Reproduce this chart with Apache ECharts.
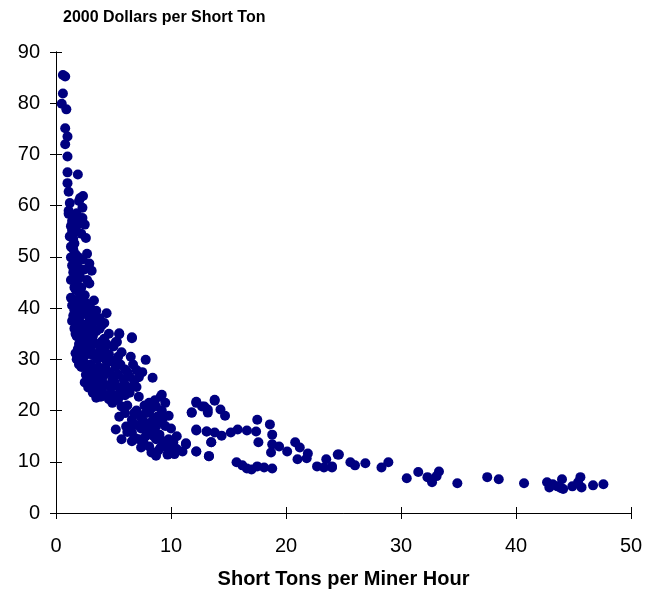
<!DOCTYPE html>
<html>
<head>
<meta charset="utf-8">
<script src="https://cdn.jsdelivr.net/npm/echarts@6/dist/echarts.min.js"></script>
<style>html,body{margin:0;padding:0;background:#fff;}#c{width:657px;height:595px;}</style>
</head>
<body>
<div id="c"></div>
<script>
const chartTitle = "2000 Dollars per Short Ton";
const xAxisName = "Short Tons per Miner Hour";
const xTicks = [0, 10, 20, 30, 40, 50];
const yTicks = [0, 10, 20, 30, 40, 50, 60, 70, 80, 90];

// [tons per miner hour, dollars per short ton]
const steepPoints = [
  [0.6,85.5],[0.8,85.2],[0.6,81.9],[0.5,79.9],[0.9,78.8],[0.8,75.1],[1.0,73.5],[0.8,72.0],
  [1.0,69.6],[1.0,66.5],[1.9,66.1],[1.0,64.4],[1.1,62.7],[2.1,61.5],[2.35,61.9],[2.3,59.6],
  [1.1,59.0],[2.0,60.9],[1.1,58.4],[1.4,57.0],[2.3,57.6],[2.5,56.3],[1.4,55.1],[2.6,53.7],
  [1.6,52.6],[1.5,51.5],[2.7,50.6],[1.3,49.9],[1.4,48.3],[2.9,48.7],[3.1,47.3],[1.65,46.8],
  [1.8,45.0],[2.9,44.8],[1.75,43.5],[2.0,41.9],[1.6,39.6],[1.2,54.0],[1.5,53.5],[1.7,50.5],
  [1.9,48.0],[2.1,46.0],[1.5,47.0],[2.2,44.0],[2.5,42.5],[2.0,43.5],[1.9,50.0],[1.3,52.0],
  [1.3,56],[1.6,58],[1.8,55],[2.2,54.5],[1.6,49],[2.3,49.5],[2.4,47.5],[1.9,46.5],[1.3,45.5],
  [1.6,44],[2.3,42],[2.7,45.5],[1.8,58.5],[2.0,56.5],[1.2,60.5]
];
const clusterPoints = [
  [1.7,41],[2.2,40.5],[2.6,41],[3.0,40],[3.3,41.5],[2.4,39],[1.5,38.5],[2.0,38],[2.8,38.5],
  [3.5,39.5],[3.8,38],[4.4,39.0],[4.2,37.1],[1.4,37.5],
  [1.6,36],[2.0,37.6],[2.9,38.2],[2.3,36],[2.7,35],[3.1,36.5],[3.5,35.5],[4.0,36.7],[3.2,34.5],
  [1.8,34.5],[2.4,34],[4.6,35],[5.5,35.1],[5.3,33.4],[6.6,34.1],[5.5,34.9],[6.6,34.3],[5.2,33.4],[4.2,34],
  [1.9,32],[2.2,30.5],[2.6,33],[3.0,32],[3.4,31],[3.8,33],[4.2,32],[4.6,31],[5.0,32.5],[1.8,30],
  [2.5,31.5],[3.6,30],[4.0,30.5],[5.7,31.4],[6.5,30.5],[4.8,29.8],[3.2,33.5],
  [2.2,28.5],[2.6,27],[3.0,29],[3.4,28],[3.9,27],[4.3,28.5],[4.7,27.5],[5.2,28.5],[5.6,29],[6.0,28],
  [7.8,29.9],[7.5,27.5],[8.4,26.4],[7.0,27.9],[6.4,26.6],[5.9,26.0],[2.8,26],[3.3,26.5],[4.0,26],
  [4.9,26],[5.4,27],
  [2.8,24.5],[3.2,23.5],[3.6,25],[4.0,24],[4.4,23],[4.8,24.5],[5.2,23],[7.0,24.6],[6.4,23.5],
  [5.7,23.5],[3.9,22.7],[3.5,22.5],[6.0,25],[4.6,22.2],
  [1.3,42],[1.4,40.5],[1.8,39.5],[2.1,39.5],[2.6,39.8],[3.1,38.5],[3.4,37.5],[3.8,36],[1.7,35],
  [1.9,36.3],[2.2,35],[2.6,36.8],[3.0,35.2],[2.5,33.2],[2.9,33.8],[3.5,33],[4.0,33.5],[4.4,33],
  [1.7,31.2],[2.0,33],[2.3,32],[2.7,31],[3.2,30.8],[3.8,31.5],[4.3,30],[2.0,29],[2.4,29.5],
  [2.8,28.5],[3.2,27.2],[3.7,28.5],[4.2,27],[4.5,29.5],[5.0,29.5],[5.4,30.5],[2.5,25.5],[3.0,25],
  [3.5,24],[3.9,25.5],[4.3,25],[4.7,23.2],[5.1,25.5],[5.5,24.5],[5.0,21.8],[5.4,22.2],[6.0,23],
  [6.3,24.5],[6.8,25.8],[6.2,27.5],[6.7,29],[7.2,26.5]
];
const bandPoints = [
  [4.9,21.5],[5.7,20.8],[7.2,22.7],[8.1,21.5],[9.1,22.7],[8.7,20.8],[8.8,18.8],[8.1,19.6],[7.5,18.2],
  [6.6,18.2],[6.1,16.9],[5.2,16.3],[5.7,14.4],[6.6,15.7],[7.2,14.4],[8.1,15.9],[8.7,16.9],[9.0,15.3],
  [8.1,13.0],[8.7,14.4],[9.8,14.4],[10.0,12.8],[9.7,11.4],[8.3,11.8],[9.1,12.8],[11.3,13.6],[12.2,12.0],
  [13.3,11.1],[12.2,21.5],[11.8,19.6],[12.9,20.8],[13.2,20.2],[13.8,22.1],[12.2,16.3],[13.1,15.9],
  [13.5,13.8],[6.2,21],[7.0,20],[7.7,21],[6.8,19.5],[7.9,17.5],[8.4,18],[9.3,18.5],[9.5,17],[9.2,20],
  [7.4,16.5],[9.5,13.5],[10.2,13.8],[10.3,11.5],[8.9,12.2],[7.6,13.8],[9.2,23.1],
  [5.5,18.8],[6.0,19.5],[6.5,17],[7.0,17.2],[7.3,19],[7.8,19.5],[8.3,20.5],[8.6,22],[9.5,21.5],
  [9.8,19],[10.0,16.5],[9.0,17.8],[8.4,16.5],[7.8,15],[6.9,14.6],[6.2,15.8],[8.5,15],[9.3,14],
  [10.5,15],[9.7,12.6],[10.5,12.5],[11.0,12],[8.7,11.2],[7.4,12.8],[6.6,14]
];
const midPoints = [
  [12.2,21.7],[11.8,19.6],[12.7,20.8],[13.2,19.6],[13.8,21.9],[14.3,20.2],[14.7,19.0],[10.1,14.0],
  [9.8,11.8],[11.3,13.4],[12.2,16.1],[12.2,12.0],[13.1,15.9],[13.5,13.8],[13.3,11.1],[13.8,15.7],
  [14.4,15.1],[15.2,15.7],[15.8,16.3],[16.6,16.1],[17.5,18.2],[17.4,15.9],[17.6,13.8],[18.6,17.3],
  [18.8,15.3],[18.8,13.4],[18.7,11.8],[19.4,13.0],[20.1,12.0],[20.8,13.8],[21.2,12.8],[21.0,10.5],
  [21.9,11.6],[21.8,10.7],[15.7,9.9],[16.2,9.3],[17.0,8.5],[17.5,9.1],[18.1,8.9],[18.8,8.7],
  [16.6,8.7],[22.7,9.1],[23.5,10.5],[24.0,8.9],[24.5,11.4],[23.3,8.9]
];
const tailPoints = [
  [24.6,11.4],[24.0,9.1],[25.6,9.9],[26.0,9.3],[26.9,9.7],[28.3,8.9],[28.9,9.9],[30.5,6.8],
  [31.5,8.0],[32.3,7.0],[32.7,6.0],[33.3,8.1],[33.1,7.2],[34.9,5.8],[37.5,7.0],[38.5,6.6],
  [40.7,5.8],[42.7,6.0],[42.9,5.0],[43.6,5.2],[44.0,6.6],[44.1,4.7],[44.9,5.2],[45.6,7.0],
  [45.7,5.0],[45.4,6.0],[46.7,5.4],[47.6,5.6],[43.2,5.6],[43.9,4.9]
];

const allPoints = steepPoints.concat(clusterPoints, bandPoints, midPoints, tailPoints);
const font = "'Liberation Sans', Arial, sans-serif";

const chart = echarts.init(document.getElementById('c'), null, {renderer: 'canvas'});
const baseX = {
  type: 'value', min: xTicks[0], max: xTicks[xTicks.length - 1], interval: 10,
  position: 'bottom', splitLine: {show: false},
  axisLine: {show: true, onZero: false, lineStyle: {color: '#000', width: 1}},
  axisTick: {show: true, inside: false, length: 6, lineStyle: {color: '#000'}},
  axisLabel: {show: true, color: '#000', fontSize: 20, fontFamily: font, margin: 23},
  name: xAxisName, nameLocation: 'middle', nameGap: 56,
  nameTextStyle: {color: '#000', fontSize: 20, fontWeight: 'bold', fontFamily: font}
};
const baseY = {
  type: 'value', min: yTicks[0], max: yTicks[yTicks.length - 1], interval: 10,
  position: 'left', splitLine: {show: false},
  axisLine: {show: true, onZero: false, lineStyle: {color: '#000', width: 1}},
  axisTick: {show: true, inside: false, length: 6, lineStyle: {color: '#000'}},
  axisLabel: {show: true, color: '#000', fontSize: 20, fontFamily: font, margin: 16}
};
chart.setOption({
  animation: false,
  backgroundColor: '#fff',
  title: {
    text: chartTitle, left: 58, top: 5,
    textStyle: {color: '#000', fontSize: 16, fontWeight: 'bold', fontFamily: font}
  },
  grid: {left: 56, right: 26, top: 52, bottom: 82},
  xAxis: [
    baseX,
    Object.assign({}, baseX, {name: '', axisLabel: {show: false},
      axisTick: {show: true, inside: true, length: 6, lineStyle: {color: '#000'}}})
  ],
  yAxis: [
    baseY,
    Object.assign({}, baseY, {axisLabel: {show: false},
      axisTick: {show: true, inside: true, length: 6, lineStyle: {color: '#000'}}})
  ],
  series: [{
    type: 'scatter', xAxisIndex: 0, yAxisIndex: 0,
    data: allPoints, symbol: 'circle', symbolSize: 10,
    itemStyle: {color: '#000080', opacity: 1}
  }]
});
</script>
</body>
</html>
